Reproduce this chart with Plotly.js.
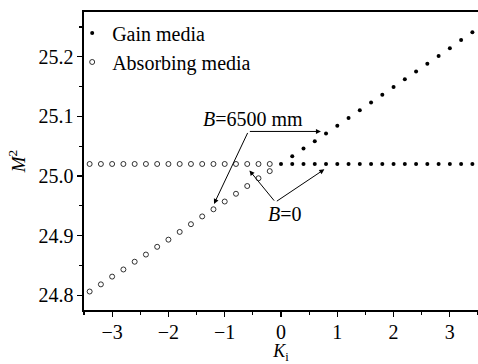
<!DOCTYPE html>
<html>
<head>
<meta charset="utf-8">
<script src="https://cdn.plot.ly/plotly-3.0.1.min.js"></script>
<style>html,body{margin:0;padding:0;background:#fff;}#chart{width:478px;height:364px;}</style>
</head>
<body>
<div id="chart"></div>
<script>
// Absorbing media (K_i < 0)
const absorbFlatK = [-3.4,-3.2,-3.0,-2.8,-2.6,-2.4,-2.2,-2.0,-1.8,-1.6,-1.4,-1.2,-1.0,-0.8,-0.6,-0.4,-0.2];
const absorbFlatM = [25.020,25.020,25.020,25.020,25.020,25.020,25.020,25.020,25.020,25.020,25.020,25.020,25.020,25.020,25.020,25.020,25.020];
const absorbSlopeK = [-3.4,-3.2,-3.0,-2.8,-2.6,-2.4,-2.2,-2.0,-1.8,-1.6,-1.4,-1.2,-1.0,-0.8,-0.6,-0.4,-0.2];
const absorbSlopeM = [24.806,24.818,24.831,24.843,24.856,24.868,24.881,24.893,24.906,24.919,24.932,24.944,24.957,24.970,24.983,24.996,25.008];
// Gain media (K_i >= 0)
const gainFlatK = [0,0.2,0.4,0.6,0.8,1.0,1.2,1.4,1.6,1.8,2.0,2.2,2.4,2.6,2.8,3.0,3.2,3.4];
const gainFlatM = [25.020,25.020,25.020,25.020,25.020,25.020,25.020,25.020,25.020,25.020,25.020,25.020,25.020,25.020,25.020,25.020,25.020,25.020];
const gainSlopeK = [0.2,0.4,0.6,0.8,1.0,1.2,1.4,1.6,1.8,2.0,2.2,2.4,2.6,2.8,3.0,3.2,3.4];
const gainSlopeM = [25.033,25.046,25.058,25.071,25.084,25.097,25.110,25.123,25.136,25.149,25.162,25.175,25.188,25.201,25.214,25.228,25.241];

const xTicks = [-3,-2,-1,0,1,2,3];
const yTicks = [24.8,24.9,25.0,25.1,25.2];

const FONT = 'Liberation Serif';

const traces = [
  {
    x: gainFlatK.concat(gainSlopeK), y: gainFlatM.concat(gainSlopeM),
    mode: 'markers', type: 'scatter', name: 'Gain media',
    marker: {symbol: 'circle', size: 4, color: '#000'}
  },
  {
    x: absorbFlatK.concat(absorbSlopeK), y: absorbFlatM.concat(absorbSlopeM),
    mode: 'markers', type: 'scatter', name: 'Absorbing media',
    marker: {symbol: 'circle-open', size: 5, color: '#000', line: {width: 0.8, color: '#000'}}
  }
];

const arrowCommon = {
  text: '', showarrow: true, arrowhead: 2, arrowsize: 1, arrowwidth: 1, arrowcolor: '#000',
  axref: 'x', ayref: 'y', xref: 'x', yref: 'y', standoff: 0, startstandoff: 0
};

const layout = {
  width: 478, height: 364,
  margin: {l: 84, r: 0, t: 12, b: 54},
  paper_bgcolor: '#fff', plot_bgcolor: '#fff',
  font: {family: FONT, size: 20, color: '#000'},
  showlegend: true,
  legend: {x: -0.03, y: 0.995, xanchor: 'left', yanchor: 'top', bgcolor: 'rgba(0,0,0,0)',
           font: {family: FONT, size: 20}, tracegroupgap: 0, itemwidth: 30},
  xaxis: {
    range: [-3.5, 3.5], tickvals: xTicks, ticktext: xTicks.map(v => v < 0 ? '\u2212' + Math.abs(v) : String(v)),
    ticks: 'outside', ticklen: 5, tickwidth: 1.2, tickcolor: '#000', ticklabelstandoff: -2,
    minor: {dtick: 0.5, tick0: 0.5, ticks: 'outside', ticklen: 3, tickcolor: '#000'},
    showline: true, linecolor: '#000', linewidth: 1.6, mirror: true,
    showgrid: false, zeroline: false,
    tickfont: {family: FONT, size: 20},
    title: {text: '<i>K</i><sub>i</sub>', font: {family: FONT, size: 18}, standoff: 6}
  },
  yaxis: {
    range: [24.775, 25.275], tickvals: yTicks, ticktext: yTicks.map(v => v.toFixed(1)),
    ticks: 'outside', ticklen: 5, tickwidth: 1.2, tickcolor: '#000',
    minor: {dtick: 0.05, tick0: 24.75, ticks: 'outside', ticklen: 3, tickcolor: '#000'},
    showline: true, linecolor: '#000', linewidth: 1.6, mirror: true,
    showgrid: false, zeroline: false,
    tickfont: {family: FONT, size: 20},
    title: {text: '<i>M</i><sup>2</sup>', font: {family: FONT, size: 19}, standoff: 8}
  },
  annotations: [
    {xref: 'x', yref: 'y', x: -1.43, y: 25.096, xanchor: 'left', yanchor: 'middle', showarrow: false,
     text: '<i>B</i>=6500 mm', font: {family: FONT, size: 20}},
    Object.assign({}, arrowCommon, {ax: -0.58, ay: 25.0746, x: 0.71, y: 25.0746}),
    Object.assign({}, arrowCommon, {ax: -0.58, ay: 25.0746, x: -1.19, y: 24.953}),
    {xref: 'x', yref: 'y', x: 0.075, y: 24.936, xanchor: 'center', yanchor: 'middle', showarrow: false,
     text: '<i>B</i>=0', font: {family: FONT, size: 20}},
    Object.assign({}, arrowCommon, {ax: -0.10, ay: 24.956, x: -0.56, y: 25.009}),
    Object.assign({}, arrowCommon, {ax: -0.10, ay: 24.956, x: 0.77, y: 25.011})
  ]
};

Plotly.newPlot('chart', traces, layout, {staticPlot: true, displayModeBar: false});
</script>
</body>
</html>
